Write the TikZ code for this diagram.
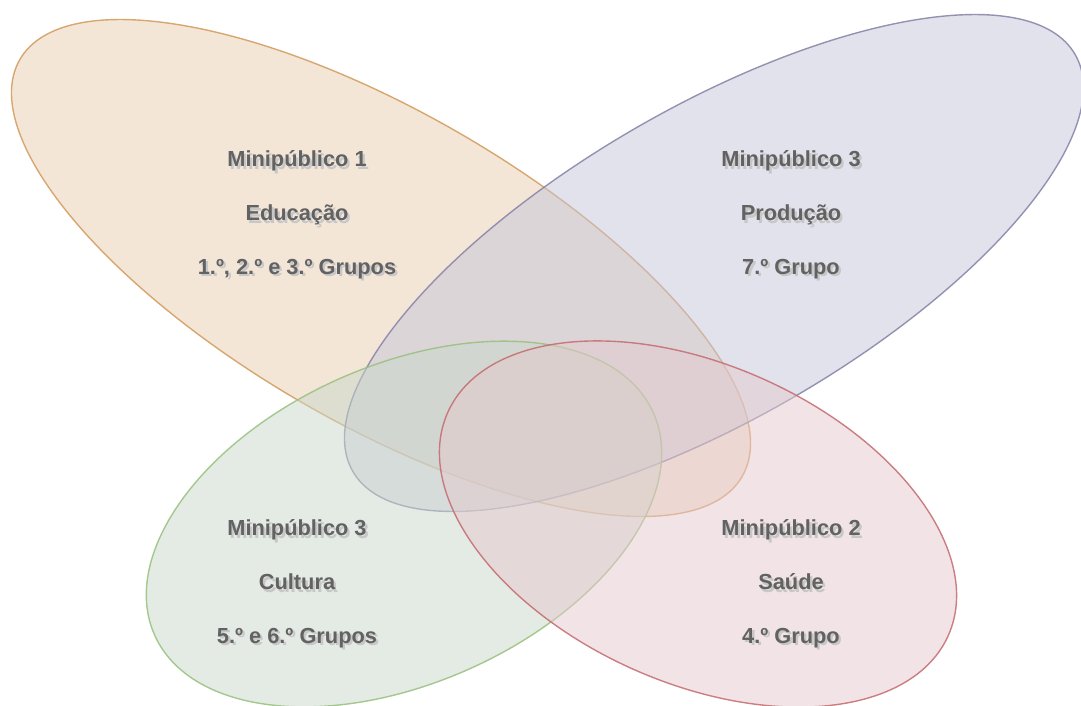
\documentclass[tikz,border=0pt]{standalone}
\usepackage{fontspec}
\setmainfont{Liberation Sans}
\definecolor{educfill}{HTML}{E9CDAF}
\definecolor{educline}{HTML}{D29A5A}
\definecolor{prodfill}{HTML}{C5C5D9}
\definecolor{prodline}{HTML}{8482A6}
\definecolor{cultfill}{HTML}{C9D7C9}
\definecolor{cultline}{HTML}{98C07E}
\definecolor{saudfill}{HTML}{E5C9CD}
\definecolor{saudline}{HTML}{C46A6E}
\definecolor{labeltext}{HTML}{626262}

% one group label: shadow copy first, then the text
\newcommand{\grupo}[3]{%
  \node[lbl, text=black!22, xshift=1.3pt, yshift=-1.3pt] (#1-sh) at (#2) {#3};
  \node[lbl] (#1) at (#2) {#3};}

\begin{document}
\begin{tikzpicture}[
      petal/.style={line width=0.8pt, fill opacity=0.5, draw opacity=0.85},
      lbl/.style={align=center, text=labeltext,
                  font=\fontsize{12.4}{30.7}\selectfont\bfseries}
    ]
      \useasboundingbox (0,0) rectangle (21.62,14.10);
      % the four ellipses
      \draw[petal, draw=educline, fill=educfill, rotate around={-30:(7.62,8.74)}]
        (7.62,8.74) ellipse [x radius=8.34, y radius=3.12];
      \draw[petal, draw=prodline, fill=prodfill, rotate around={30:(14.28,8.84)}]
        (14.28,8.84) ellipse [x radius=8.34, y radius=3.12];
      \draw[petal, draw=cultline, fill=cultfill, rotate around={24:(8.08,3.62)}]
        (8.08,3.62) ellipse [x radius=5.46, y radius=3.18];
      \draw[petal, draw=saudline, fill=saudfill, rotate around={-24:(13.96,3.62)}]
        (13.96,3.62) ellipse [x radius=5.48, y radius=3.18];
      % labels
      \grupo{educ}{5.94,9.80}{Minipúblico 1\\Educação\\1.º, 2.º e 3.º Grupos}
      \grupo{prod}{15.82,9.80}{Minipúblico 3\\Produção\\7.º Grupo}
      \grupo{cult}{5.94,2.42}{Minipúblico 3\\Cultura\\5.º e 6.º Grupos}
      \grupo{saud}{15.82,2.42}{Minipúblico 2\\Saúde\\4.º Grupo}
    \end{tikzpicture}
\end{document}
